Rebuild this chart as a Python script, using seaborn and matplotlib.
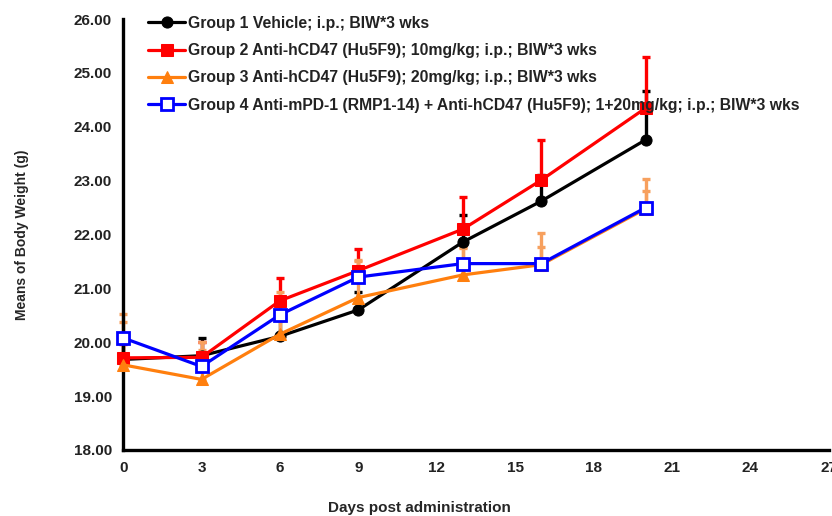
import numpy as np
import pandas as pd
import matplotlib
matplotlib.use("Agg")
import matplotlib.pyplot as plt
import seaborn as sns

# Days of measurement
days = [0, 3, 6, 9, 13, 16, 20]

group_labels = [
    "Group 1 Vehicle; i.p.; BIW*3 wks",
    "Group 2 Anti-hCD47 (Hu5F9); 10mg/kg; i.p.; BIW*3 wks",
    "Group 3 Anti-hCD47 (Hu5F9); 20mg/kg; i.p.; BIW*3 wks",
    "Group 4 Anti-mPD-1 (RMP1-14) + Anti-hCD47 (Hu5F9); 1+20mg/kg; i.p.; BIW*3 wks",
]

# mean body weight (g)
g1_mean = [19.68, 19.75, 20.11, 20.60, 21.86, 22.62, 23.76]
g2_mean = [19.71, 19.72, 20.77, 21.33, 22.10, 23.01, 24.35]
g3_mean = [19.58, 19.31, 20.15, 20.83, 21.25, 21.44, 22.48]
g4_mean = [20.08, 19.55, 20.51, 21.21, 21.46, 21.46, 22.50]

# upper error (SEM) per point
g1_err = [0.30, 0.32, 0.30, 0.33, 0.50, 0.48, 0.90]
g2_err = [0.25, 0.28, 0.42, 0.41, 0.60, 0.75, 0.95]
g3_err = [0.95, 0.70, 0.78, 0.70, 0.50, 0.58, 0.55]
g4_err = [0.30, 0.30, 0.30, 0.30, 0.30, 0.30, 0.30]

means = [g1_mean, g2_mean, g3_mean, g4_mean]
errs = [g1_err, g2_err, g3_err, g4_err]

colors = ["#000000", "#FF0000", "#FF7F0E", "#0000FF"]
err_colors = ["#000000", "#FF0000", "#F7A05E", "#F7A05E"]
markers = ["o", "s", "^", "s"]

rows = []
for lab, m in zip(group_labels, means):
    for d, v in zip(days, m):
        rows.append({"Group": lab, "Day": d, "Weight": v})
df = pd.DataFrame(rows)

sns.set_style("white")
plt.rcParams['font.family'] = ['Liberation Sans', 'DejaVu Sans']

fig = plt.figure(figsize=(8.32, 5.16), dpi=100)
ax = fig.add_axes([0.148, 0.128, 0.848, 0.835])

# error bars (upper only), drawn under the lines
for i in range(4):
    low = np.zeros(len(days))
    ax.errorbar(days, means[i], yerr=[low, errs[i]], fmt="none",
                ecolor=err_colors[i], color=err_colors[i], elinewidth=2.4,
                capsize=3, capthick=2.4, zorder=2, clip_on=False)

sns.lineplot(data=df, x="Day", y="Weight", hue="Group", hue_order=group_labels,
             palette=colors, style="Group", style_order=group_labels,
             markers=markers, dashes=False, linewidth=2.3, markersize=8,
             ax=ax, zorder=3)

# group 4 uses open squares
for ln in ax.lines:
    c = matplotlib.colors.to_hex(ln.get_color())
    ln.set_markeredgecolor(c)
    if c == "#0000ff":
        ln.set_markerfacecolor("white")
        ln.set_markeredgewidth(2)
        ln.set_markersize(9)
    ln.set_clip_on(False)

ax.set_xlim(0, 27)
ax.set_ylim(18, 26)
ax.set_xticks(range(0, 28, 3))
ax.set_yticks(np.arange(18, 26.01, 1))
ax.set_yticklabels([f"{v:.2f}" for v in np.arange(18, 26.01, 1)])

for s in ["top", "right"]:
    ax.spines[s].set_visible(False)
for s in ["left", "bottom"]:
    ax.spines[s].set_linewidth(2.4)
    ax.spines[s].set_color("black")

ax.tick_params(direction="in", length=5, width=2, colors="black", pad=8)
for t in ax.get_xticklabels() + ax.get_yticklabels():
    t.set_fontweight("bold")
    t.set_fontsize(11)
    t.set_color("#222222")

ax.set_xlabel("Days post administration", fontsize=11, fontweight="bold")
ax.set_ylabel("Means of Body Weight (g)", fontsize=10, fontweight="bold")
ax.xaxis.set_label_coords(0.42, -0.118)
ax.yaxis.set_label_coords(-0.133, 0.5)

handles, labels = ax.get_legend_handles_labels()
leg = ax.legend(handles, labels, loc="upper left", bbox_to_anchor=(0.027, 1.022),
                frameon=False, fontsize=11.3, handlelength=2.3,
                labelspacing=0.78, handletextpad=0.2, borderaxespad=0)
for t in leg.get_texts():
    t.set_fontweight("bold")
    t.set_color("#222222")

fig.savefig("out.png", dpi=100)
